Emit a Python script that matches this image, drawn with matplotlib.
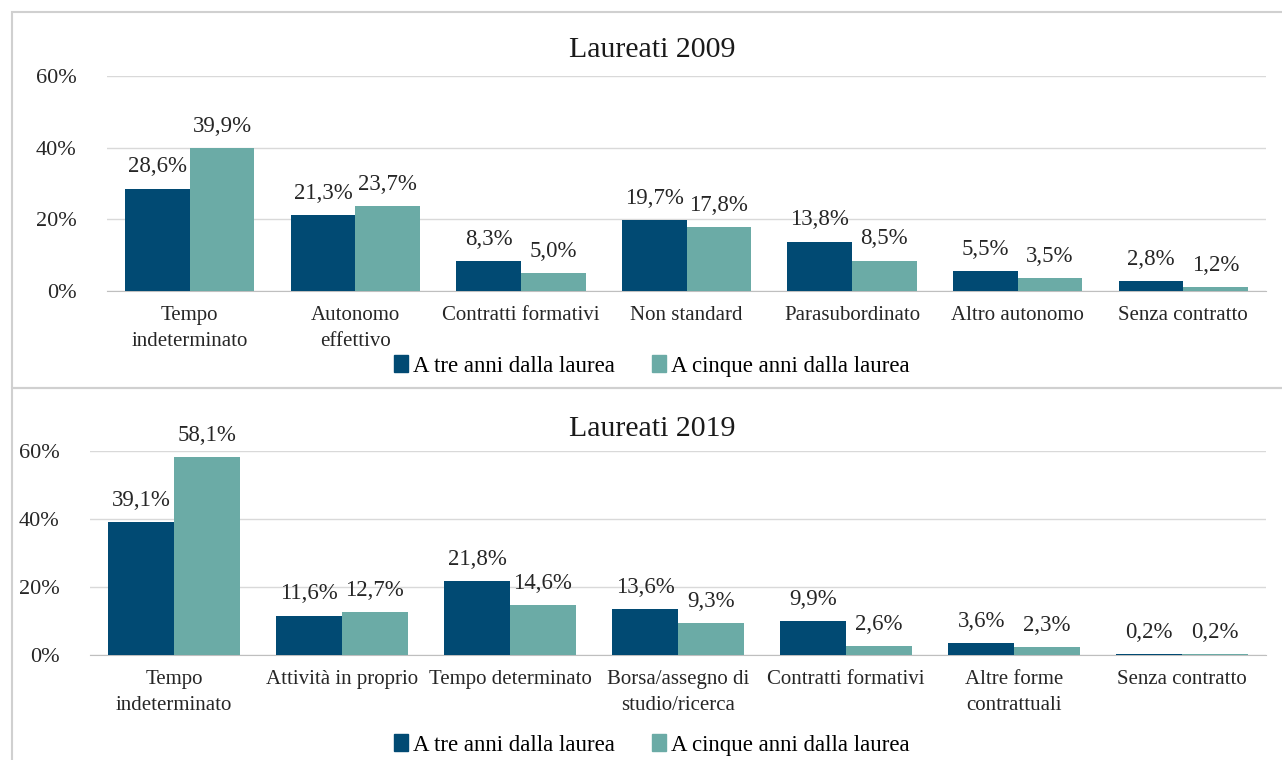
import matplotlib
matplotlib.use('Agg')
import matplotlib.pyplot as plt
from matplotlib.patches import Rectangle, Patch
import numpy as np

# Laureati 2009
cat_2009 = ['Tempo\nindeterminato', 'Autonomo\neffettivo', 'Contratti formativi',
            'Non standard', 'Parasubordinato', 'Altro autonomo', 'Senza contratto']
tre_2009 = [28.6, 21.3, 8.3, 19.7, 13.8, 5.5, 2.8]
cinque_2009 = [39.9, 23.7, 5.0, 17.8, 8.5, 3.5, 1.2]

# Laureati 2019
cat_2019 = ['Tempo\nindeterminato', 'Attività in proprio', 'Tempo determinato',
            'Borsa/assegno di\nstudio/ricerca', 'Contratti formativi',
            'Altre forme\ncontrattuali', 'Senza contratto']
tre_2019 = [39.1, 11.6, 21.8, 13.6, 9.9, 3.6, 0.2]
cinque_2019 = [58.1, 12.7, 14.6, 9.3, 2.6, 2.3, 0.2]

yticks = [0, 20, 40, 60]
serie = ['A tre anni dalla laurea', 'A cinque anni dalla laurea']

DARK = '#014A73'
LIGHT = '#6BABA6'
GRID = '#D9D9D9'

plt.rcParams['font.family'] = ['Liberation Serif', 'DejaVu Serif']
plt.rcParams['font.size'] = 15

fig = plt.figure(figsize=(12.82, 7.6), dpi=100)

# cornici dei pannelli
fig.patches.append(Rectangle((12 / 1282, 1 - 388 / 760), 1.0, 376 / 760,
                             transform=fig.transFigure, fill=False,
                             edgecolor='#D0D0D0', linewidth=1.5))
fig.patches.append(Rectangle((12 / 1282, -0.05), 1.0, (372 / 760) + 0.05,
                             transform=fig.transFigure, fill=False,
                             edgecolor='#D0D0D0', linewidth=1.5))


def fmt(v):
    return f'{v:.1f}'.replace('.', ',') + '%'


def pannello(rect, cats, a, b, title, title_y, leg_y):
    ax = fig.add_axes(rect)
    x = np.arange(len(cats))
    w = 0.39
    b1 = ax.bar(x - w / 2, a, w, color=DARK, zorder=3)
    b2 = ax.bar(x + w / 2, b, w, color=LIGHT, zorder=3)
    for bars, vals in ((b1, a), (b2, b)):
        for r, v in zip(bars, vals):
            ax.annotate(fmt(v), (r.get_x() + r.get_width() / 2, r.get_height()),
                        xytext=(0, 8), textcoords='offset points',
                        ha='center', va='bottom', fontsize=16.5, color='#262626')
    ax.set_ylim(0, 60)
    ax.set_xlim(-0.5, len(cats) - 0.5)
    ax.set_yticks(yticks)
    ax.set_yticklabels([f'{t}%' for t in yticks], fontsize=16, color='#262626')
    ax.set_xticks(x)
    ax.set_xticklabels(cats, fontsize=15, color='#262626', linespacing=1.45)
    ax.tick_params(axis='both', length=0)
    ax.tick_params(axis='x', pad=11)
    ax.tick_params(axis='y', pad=22)
    ax.grid(axis='y', color=GRID, linewidth=1, zorder=0)
    for s in ['top', 'right', 'left']:
        ax.spines[s].set_visible(False)
    ax.spines['bottom'].set_color('#BFBFBF')
    ax.set_axisbelow(True)
    fig.text(0.5085, title_y, title, ha='center', va='center', fontsize=21.5,
             color='#1a1a1a')
    handles = [Patch(color=DARK), Patch(color=LIGHT)]
    fig.legend(handles, serie, loc='center', bbox_to_anchor=(0.5085, leg_y),
               ncol=2, frameon=False, fontsize=16.5, handlelength=0.6,
               handleheight=0.7, handletextpad=0.25, columnspacing=1.6)
    return ax


pannello([107 / 1282, 1 - 291 / 760, 1159 / 1282, 215 / 760],
         cat_2009, tre_2009, cinque_2009, 'Laureati 2009',
         1 - 50 / 760, 1 - 366 / 760)
pannello([90 / 1282, 1 - 655 / 760, 1176 / 1282, 204 / 760],
         cat_2019, tre_2019, cinque_2019, 'Laureati 2019',
         1 - 429 / 760, 1 - 745 / 760)

fig.savefig('out.png', dpi=100, facecolor='white')
